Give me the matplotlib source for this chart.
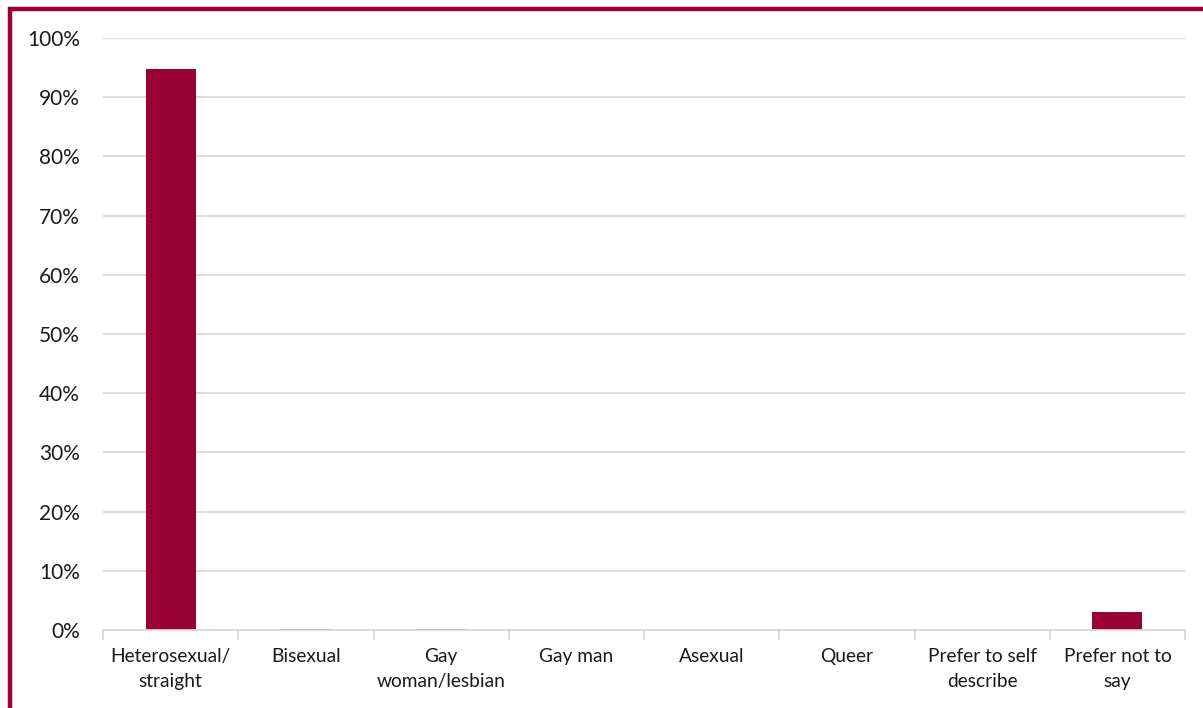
import matplotlib
matplotlib.use("Agg")
import matplotlib.pyplot as plt
from matplotlib.patches import Rectangle
from matplotlib.ticker import FuncFormatter, FixedLocator, NullFormatter
import numpy as np

categories = ["Heterosexual/\nstraight", "Bisexual", "Gay\nwoman/lesbian", "Gay man",
              "Asexual", "Queer", "Prefer to self\ndescribe", "Prefer not to\nsay"]
values = [94.8, 0.2, 0.2, 0.0, 0.0, 0.0, 0.0, 3.0]

bar_color = "#990033"
grid_color = "#d9d9d9"
text_color = "#1a1a1a"

plt.rcParams['font.family'] = ['Lato', 'DejaVu Sans']

fig = plt.figure(figsize=(12.03, 7.08), dpi=100)
ax = fig.add_axes([103/1203, 1 - 630/708, (1185 - 103)/1203, (630 - 38)/708])

x = np.arange(len(categories))
ax.bar(x, values, width=0.37, color=bar_color, zorder=3)

ax.set_xlim(-0.5, len(categories) - 0.5)
ax.set_ylim(0, 100)
ax.set_yticks(np.arange(0, 101, 10))
ax.yaxis.set_major_formatter(FuncFormatter(lambda v, _: f"{int(v)}%"))
ax.tick_params(axis='y', length=0, pad=16.5, labelsize=15, labelcolor=text_color)
ax.grid(axis='y', color=grid_color, linewidth=1.3, zorder=0)

# category labels centred, tick marks on category boundaries
ax.set_xticks(x)
ax.set_xticklabels(categories, fontsize=13.8, color=text_color, linespacing=1.55)
ax.tick_params(axis='x', which='major', length=0, pad=13)
ax.xaxis.set_minor_locator(FixedLocator(np.arange(-0.5, len(categories), 1.0)))
ax.xaxis.set_minor_formatter(NullFormatter())
ax.tick_params(axis='x', which='minor', length=7, width=1.3, color=grid_color)

for side in ("top", "right", "left"):
    ax.spines[side].set_visible(False)
ax.spines["bottom"].set_color(grid_color)
ax.spines["bottom"].set_linewidth(1.3)
ax.spines["bottom"].set_zorder(4)

# outer frame around the chart
frame = Rectangle((10/1203, -0.1), 1.2, 1 - 9/708 + 0.1, transform=fig.transFigure,
                  fill=False, edgecolor=bar_color, linewidth=3.2, clip_on=False)
fig.add_artist(frame)

fig.savefig("out.png", dpi=100)
